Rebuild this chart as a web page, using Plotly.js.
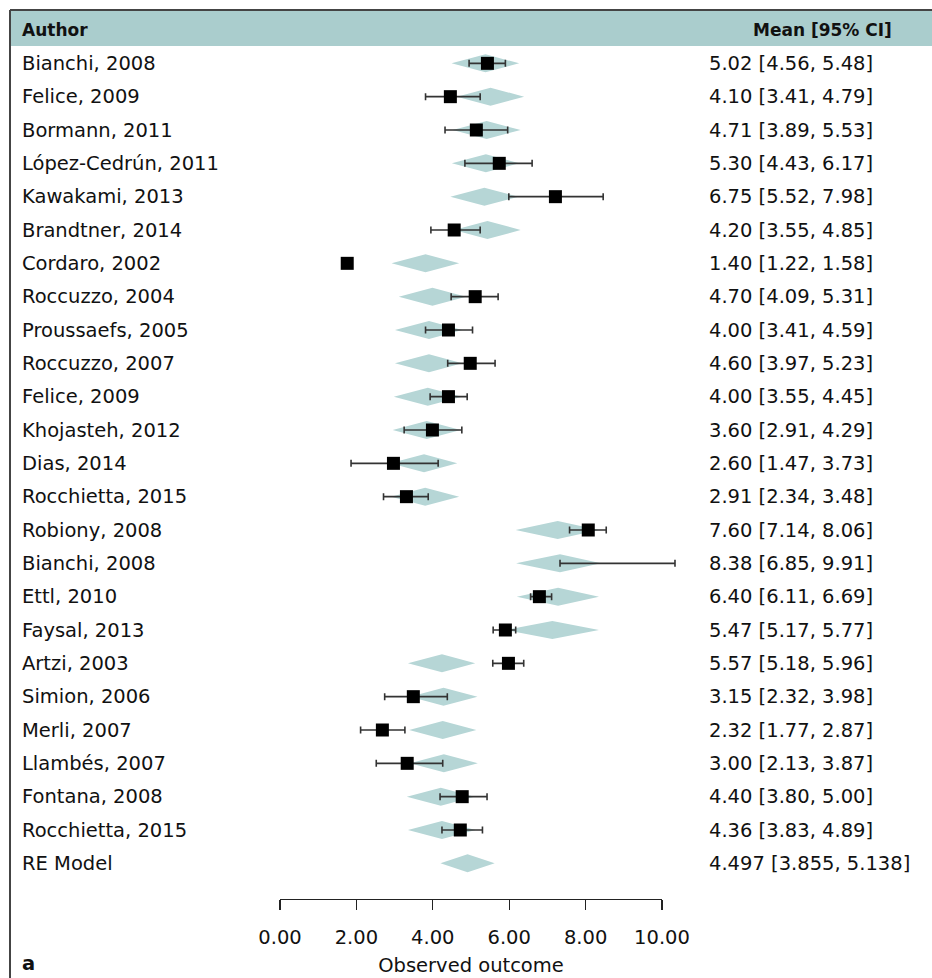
<!DOCTYPE html>
<html>
<head>
<meta charset="utf-8">
<script src="https://cdn.plot.ly/plotly-3.0.1.min.js"></script>
<style>html,body{margin:0;padding:0;background:#fff;}#chart{width:932px;height:978px;}</style>
</head>
<body>
<div id="chart"></div>
<script>
// ---- Data ----
const authors = ["Bianchi, 2008","Felice, 2009","Bormann, 2011","López-Cedrún, 2011","Kawakami, 2013",
  "Brandtner, 2014","Cordaro, 2002","Roccuzzo, 2004","Proussaefs, 2005","Roccuzzo, 2007","Felice, 2009",
  "Khojasteh, 2012","Dias, 2014","Rocchietta, 2015","Robiony, 2008","Bianchi, 2008","Ettl, 2010",
  "Faysal, 2013","Artzi, 2003","Simion, 2006","Merli, 2007","Llambés, 2007","Fontana, 2008",
  "Rocchietta, 2015","RE Model"];

// Right-hand text column: Mean [95% CI]
const meanVal = [5.02,4.10,4.71,5.30,6.75,4.20,1.40,4.70,4.00,4.60,4.00,3.60,2.60,2.91,7.60,8.38,6.40,5.47,5.57,3.15,2.32,3.00,4.40,4.36,4.497];
const ciLow   = [4.56,3.41,3.89,4.43,5.52,3.55,1.22,4.09,3.41,3.97,3.55,2.91,1.47,2.34,7.14,6.85,6.11,5.17,5.18,2.32,1.77,2.13,3.80,3.83,3.855];
const ciHigh  = [5.48,4.79,5.53,6.17,7.98,4.85,1.58,5.31,4.59,5.23,4.45,4.29,3.73,3.48,8.06,9.91,6.69,5.77,5.96,3.98,2.87,3.87,5.00,4.89,5.138];

// Plotted study squares and whiskers (positions on the drawn axis)
const squarePos = [5.43,4.46,5.14,5.74,7.21,4.56,1.76,5.11,4.41,4.98,4.41,3.99,2.97,3.31,8.07,null,6.79,5.90,5.98,3.49,2.68,3.33,4.77,4.72,null];
const barLo     = [4.95,3.81,4.32,4.84,5.99,3.95,null,4.48,3.81,4.39,3.93,3.25,1.86,2.71,7.58,7.33,6.56,5.58,5.57,2.74,2.11,2.52,4.19,4.24,null];
const barHi     = [5.90,5.24,5.96,6.60,8.46,5.24,null,5.71,5.04,5.63,4.90,4.76,4.14,3.88,8.54,10.34,7.11,6.17,6.38,4.38,3.27,4.26,5.42,5.30,null];

// Summary diamonds (left tip, centre, right tip)
const diamondLo  = [4.49,4.63,4.52,4.50,4.46,4.55,2.92,3.11,3.01,3.01,2.98,2.95,2.88,2.91,6.17,6.18,6.20,5.91,3.35,3.40,3.38,3.40,3.32,3.35,4.20];
const diamondMid = [5.38,5.51,5.41,5.39,5.35,5.43,3.81,3.99,3.90,3.90,3.87,3.84,3.77,3.80,7.27,7.33,7.28,7.13,4.24,4.28,4.26,4.29,4.21,4.24,4.91];
const diamondHi  = [6.26,6.39,6.30,6.26,6.24,6.30,4.69,4.87,4.77,4.77,4.76,4.73,4.64,4.69,8.35,8.40,8.35,8.35,5.11,5.17,5.14,5.18,5.09,5.12,5.62];

const tickVals = [0,2,4,6,8,10];

// ---- Build traces ----
const rows = authors.map((_, i) => i + 1);
const FONT = "DejaVu Sans";
const FS = 19.5;
const HALF = 0.27; // diamond half height in row units

const dx = [], dy = [];
rows.forEach((r, i) => {
  dx.push(diamondLo[i], diamondMid[i], diamondHi[i], diamondMid[i], diamondLo[i], null);
  dy.push(r, r - HALF, r, r + HALF, r, null);
});

const diamonds = {
  type: "scatter", mode: "lines", x: dx, y: dy, fill: "toself", xaxis: "x", yaxis: "y",
  fillcolor: "#b6d6d6", line: {width: 0, color: "#b6d6d6"},
  hoverinfo: "skip", showlegend: false
};

const whiskers = {
  type: "scatter", mode: "markers", x: barLo, y: rows, xaxis: "x", yaxis: "y",
  marker: {size: 1, opacity: 0},
  error_x: {type: "data", symmetric: false,
    array: barHi.map((h, i) => (h == null ? null : h - barLo[i])),
    arrayminus: barLo.map(() => 0),
    color: "#333", thickness: 1.6, width: 3.5},
  showlegend: false, hoverinfo: "skip"
};

const squares = {
  type: "scatter", mode: "markers", x: squarePos, y: rows, xaxis: "x2", yaxis: "y",
  marker: {symbol: "square", size: 13, color: "#000", line: {width: 0}},
  showlegend: false, cliponaxis: false
};

// ---- Geometry (pixels) ----
const W = 932, H = 978, ML = 10, MR = 0, MT = 10, MB = 79;
const AX0 = 280, AX1 = 662;           // pixel span of the 0..10 scale
const PW = W - ML - MR, PH = H - MT - MB;
const px = p => (p - ML) / PW;
const py = p => (H - MB - p) / PH;
const unit = (AX1 - AX0) / 10;
const fullRange = [(ML - AX0) / unit, (W - MR - AX0) / unit];

const annotations = [];
rows.forEach((r, i) => {
  annotations.push({xref: "paper", yref: "y", x: px(20), y: r, xanchor: "left", yanchor: "middle",
    text: authors[i], showarrow: false, font: {family: FONT, size: FS, color: "#111"}});
  const d = (i === rows.length - 1) ? 3 : 2;
  annotations.push({xref: "paper", yref: "y", x: px(707), y: r, xanchor: "left", yanchor: "middle",
    text: meanVal[i].toFixed(d) + " [" + ciLow[i].toFixed(d) + ", " + ciHigh[i].toFixed(d) + "]",
    showarrow: false, font: {family: FONT, size: FS, color: "#111"}});
});
annotations.push({xref: "paper", yref: "y", x: px(20), y: 0, xanchor: "left", yanchor: "middle",
  text: "<b>Author</b>", showarrow: false, font: {family: FONT, size: 17, color: "#111"}});
annotations.push({xref: "paper", yref: "y", x: px(894), y: 0, xanchor: "right", yanchor: "middle",
  text: "<b>Mean [95% CI]</b>", showarrow: false, font: {family: FONT, size: 17, color: "#111"}});
annotations.push({xref: "paper", yref: "paper", x: px(20), y: py(977), xanchor: "left", yanchor: "bottom",
  text: "<b>a</b>", showarrow: false, font: {family: FONT, size: FS, color: "#111"}});

const shapes = [
  {type: "rect", xref: "paper", yref: "paper", x0: px(10), x1: px(932), y0: py(46), y1: py(10),
    fillcolor: "#aacdcd", line: {width: 0}, layer: "below"},
  {type: "line", xref: "paper", yref: "paper", x0: px(10), x1: px(932), y0: py(10), y1: py(10),
    line: {color: "#444", width: 2}},
  {type: "line", xref: "paper", yref: "paper", x0: px(10), x1: px(10), y0: py(10), y1: py(978),
    line: {color: "#444", width: 2}}
];

const layout = {
  width: W, height: H,
  margin: {l: ML, r: MR, t: MT, b: MB, pad: 0},
  paper_bgcolor: "#fff", plot_bgcolor: "rgba(0,0,0,0)",
  font: {family: FONT, size: FS, color: "#111"},
  showlegend: false,
  xaxis: {domain: [0, 1], range: fullRange, visible: false, fixedrange: true},
  xaxis2: {domain: [px(AX0), px(AX1)], anchor: "y", range: [0, 10], tickvals: tickVals, tickformat: ".2f",
    showgrid: false, zeroline: false, showline: true, linecolor: "#222", linewidth: 1.3,
    ticks: "outside", ticklen: 10, tickwidth: 1.3, tickcolor: "#222", ticklabelstandoff: 10,
    tickfont: {family: FONT, size: FS, color: "#111"}, fixedrange: true,
    title: {text: "Observed outcome", font: {family: FONT, size: FS, color: "#111"}, standoff: 10}},
  yaxis: {range: [26.07, -0.6], visible: false, fixedrange: true},
  annotations: annotations,
  shapes: shapes
};

Plotly.newPlot("chart", [diamonds, whiskers, squares], layout, {displayModeBar: false, staticPlot: true});
</script>
</body>
</html>
